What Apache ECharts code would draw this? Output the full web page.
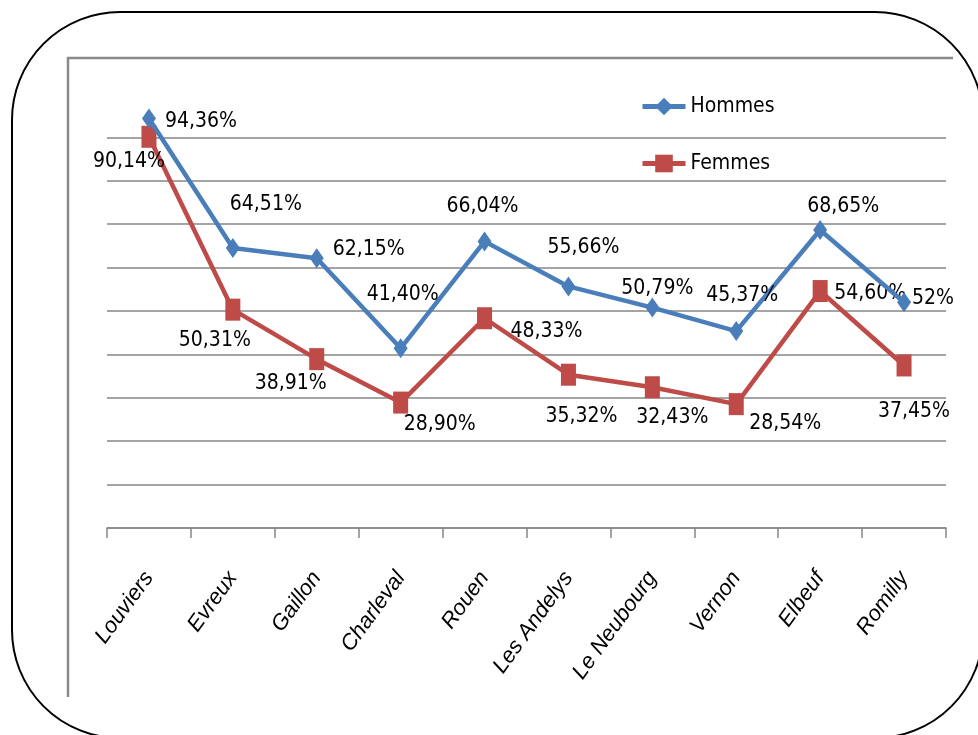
<!DOCTYPE html>
<html>
<head>
<meta charset="utf-8">
<script src="https://cdn.jsdelivr.net/npm/echarts@6/dist/echarts.min.js"></script>
<style>
  html, body { margin: 0; padding: 0; background: #fff; }
  #chart { width: 978px; height: 735px; }
</style>
</head>
<body>
<div id="chart"></div>
<script>
// Towns along the category axis
var villes = ['Louviers', 'Evreux', 'Gaillon', 'Charleval', 'Rouen', 'Les Andelys', 'Le Neubourg', 'Vernon', 'Elbeuf', 'Romilly'];

// Percentages per series
var hommes = [94.36, 64.51, 62.15, 41.40, 66.04, 55.66, 50.79, 45.37, 68.65, 52];
var femmes = [90.14, 50.31, 38.91, 28.90, 48.33, 35.32, 32.43, 28.54, 54.60, 37.45];

// Label placement relative to each point, in pixels [dx, dy]
var offsetsHommes = [[52, 3], [33, -43], [52, -9], [2, -54], [-2, -35], [15, -39], [5, -19], [6, -36], [23, -24], [29, -4]];
var offsetsFemmes = [[-20, 25], [-18, 31], [-26, 24], [39, 22], [62, 13], [13, 42], [20, 30], [49, 19], [50, 3], [10, 46]];

var BLEU = '#4A7EBB';
var ROUGE = '#BE4B48';
var FONT_NUM = "'DejaVu Sans Condensed', 'Liberation Sans', sans-serif";
var FONT_CAT = "'Liberation Sans', 'DejaVu Sans', sans-serif";

function pourcent(v) {
  return (Number.isInteger(v) ? String(v) : v.toFixed(2).replace('.', ',')) + '%';
}

function points(values, offsets) {
  return values.map(function (v, i) {
    return { value: v, label: { offset: offsets[i] } };
  });
}

var labelStyle = {
  show: true,
  position: 'inside',
  align: 'center',
  verticalAlign: 'middle',
  fontFamily: FONT_NUM,
  fontSize: 21,
  color: '#000',
  formatter: function (p) { return pourcent(p.value); }
};

var chart = echarts.init(document.getElementById('chart'), null, { renderer: 'canvas' });

chart.setOption({
  animation: false,
  backgroundColor: '#fff',
  graphic: [
    {
      type: 'rect',
      shape: { x: 12, y: 12, width: 971, height: 726, r: 108 },
      style: { fill: 'none', stroke: '#000', lineWidth: 2 },
      silent: true, z: 0
    },
    {
      type: 'polyline',
      shape: { points: [[68, 697], [68, 58], [953, 58]] },
      style: { fill: 'none', stroke: '#8a8a8a', lineWidth: 2.5 },
      silent: true, z: 0
    }
  ],
  grid: { left: 107, right: 32, top: 94, bottom: 207, containLabel: false },
  legend: {
    orient: 'vertical',
    left: 635,
    top: 91,
    itemWidth: 43,
    itemHeight: 22,
    itemGap: 36,
    lineStyle: { width: 5 },
    textStyle: { fontFamily: FONT_NUM, fontSize: 21, color: '#000' },
    data: ['Hommes', 'Femmes']
  },
  xAxis: {
    type: 'category',
    data: villes,
    boundaryGap: true,
    axisLine: { lineStyle: { color: '#868686', width: 1.5 } },
    axisTick: { show: true, length: 10, lineStyle: { color: '#868686', width: 1.5 } },
    axisLabel: {
      rotate: 54,
      margin: 46,
      interval: 0,
      fontFamily: FONT_CAT,
      fontStyle: 'italic',
      fontSize: 22,
      color: '#000'
    },
    splitLine: { show: false }
  },
  yAxis: {
    type: 'value',
    min: 0,
    max: 100,
    interval: 10,
    axisLine: { show: false },
    axisTick: { show: false },
    axisLabel: { show: false },
    splitLine: { show: true, showMaxLine: false, lineStyle: { color: '#868686', width: 1.5 } }
  },
  series: [
    {
      name: 'Hommes',
      type: 'line',
      data: points(hommes, offsetsHommes),
      symbol: 'diamond',
      symbolSize: [14, 20],
      showAllSymbol: true,
      lineStyle: { color: BLEU, width: 4.5 },
      itemStyle: { color: BLEU },
      label: labelStyle,
      z: 3
    },
    {
      name: 'Femmes',
      type: 'line',
      data: points(femmes, offsetsFemmes),
      symbol: 'rect',
      symbolSize: [15, 22],
      showAllSymbol: true,
      lineStyle: { color: ROUGE, width: 4.5 },
      itemStyle: { color: ROUGE },
      label: labelStyle,
      z: 2
    }
  ]
});
</script>
</body>
</html>
